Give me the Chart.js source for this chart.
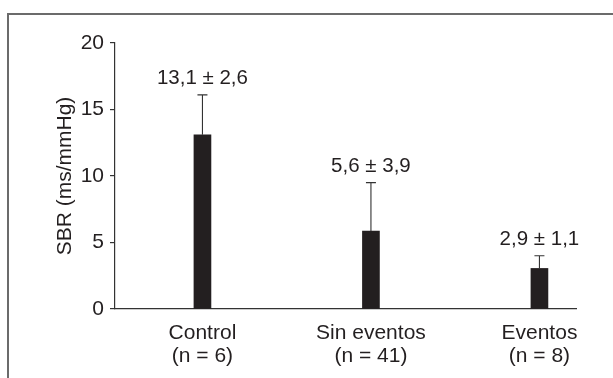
<!DOCTYPE html>
<html>
<head>
<meta charset="utf-8">
<script src="https://cdn.jsdelivr.net/npm/chart.js@4/dist/chart.umd.min.js"></script>
<style>
  html, body { margin: 0; padding: 0; background: #fff; }
  #wrap { width: 613px; height: 378px; }
</style>
</head>
<body>
<div id="wrap"><canvas id="sbr-chart" width="613" height="378"></canvas></div>
<script>
var categories = [['Control', '(n = 6)'], ['Sin eventos', '(n = 41)'], ['Eventos', '(n = 8)']];
var means = [13.1, 5.85, 3.05];
var errorTops = [16.1, 9.5, 4.0];
var valueLabels = ['13,1 \u00b1 2,6', '5,6 \u00b1 3,9', '2,9 \u00b1 1,1'];
var yTicks = [0, 5, 10, 15, 20];

var ink = '#231f20';
var fontFamily = "'Liberation Sans', Arial, Helvetica, sans-serif";

// frame: gray line on top and left only
var framePlugin = {
  id: 'frame',
  beforeDraw: function (chart) {
    var ctx = chart.ctx;
    ctx.save();
    ctx.strokeStyle = '#6b6b6b';
    ctx.lineWidth = 2;
    ctx.beginPath();
    ctx.moveTo(8, chart.height);
    ctx.lineTo(8, 14);
    ctx.lineTo(chart.width, 14);
    ctx.stroke();
    ctx.restore();
  }
};

// error bars and the mean ± sd text above them
var errorBarPlugin = {
  id: 'errorBars',
  afterDatasetsDraw: function (chart) {
    var ctx = chart.ctx;
    var yScale = chart.scales.y;
    var meta = chart.getDatasetMeta(0);
    ctx.save();
    ctx.strokeStyle = '#333';
    ctx.lineWidth = 1.1;
    ctx.fillStyle = ink;
    ctx.font = '20.5px ' + fontFamily;
    ctx.textAlign = 'center';
    ctx.textBaseline = 'alphabetic';
    meta.data.forEach(function (bar, i) {
      var top = yScale.getPixelForValue(errorTops[i]);
      ctx.beginPath();
      ctx.moveTo(bar.x, bar.y);
      ctx.lineTo(bar.x, top);
      ctx.moveTo(bar.x - 5, top);
      ctx.lineTo(bar.x + 5, top);
      ctx.stroke();
      ctx.fillText(valueLabels[i], bar.x, top - 11);
    });
    ctx.restore();
  }
};

var points = means.map(function (v, i) { return { x: i, y: v }; });

new Chart(document.getElementById('sbr-chart').getContext('2d'), {
  type: 'bar',
  data: {
    datasets: [
      {
        label: 'SBR',
        data: points,
        backgroundColor: ink,
        borderWidth: 0,
        barThickness: 17,
      },
    ],
  },
  options: {
    responsive: false,
    animation: false,
    layout: { padding: { left: 0, right: 37, top: 43, bottom: 0 } },
    plugins: {
      legend: { display: false },
      tooltip: { enabled: false },
    },
    scales: {
      x: {
        type: 'linear',
        offset: false,
        min: -0.519,
        max: 2.217,
        afterBuildTicks: function (scale) {
          scale.ticks = categories.map(function (c, i) { return { value: i }; });
        },
        afterFit: function (scale) { scale.height = 69; },
        grid: { display: false, drawTicks: false, offset: false },
        border: { display: true, color: '#333', width: 1.2 },
        ticks: {
          padding: 13,
          maxRotation: 0,
          autoSkip: false,
          color: ink,
          font: { family: fontFamily, size: 21, lineHeight: 1.1 },
          callback: function (value) { return categories[value]; },
        },
      },
      y: {
        min: 0,
        max: 20,
        afterBuildTicks: function (scale) {
          scale.ticks = yTicks.map(function (v) { return { value: v }; });
        },
        afterFit: function (scale) { scale.width = 115; },
        grid: { drawOnChartArea: false, drawTicks: true, tickLength: 5, color: '#333', lineWidth: 1.2 },
        border: { display: true, color: '#333', width: 1.2 },
        ticks: {
          padding: 6,
          color: ink,
          font: { family: fontFamily, size: 21 },
        },
        title: {
          display: true,
          text: 'SBR (ms/mmHg)',
          color: ink,
          font: { family: fontFamily, size: 21, lineHeight: 1.2 },
          padding: { top: 53, bottom: 0 },
        },
      },
    },
  },
  plugins: [framePlugin, errorBarPlugin],
});
</script>
</body>
</html>
